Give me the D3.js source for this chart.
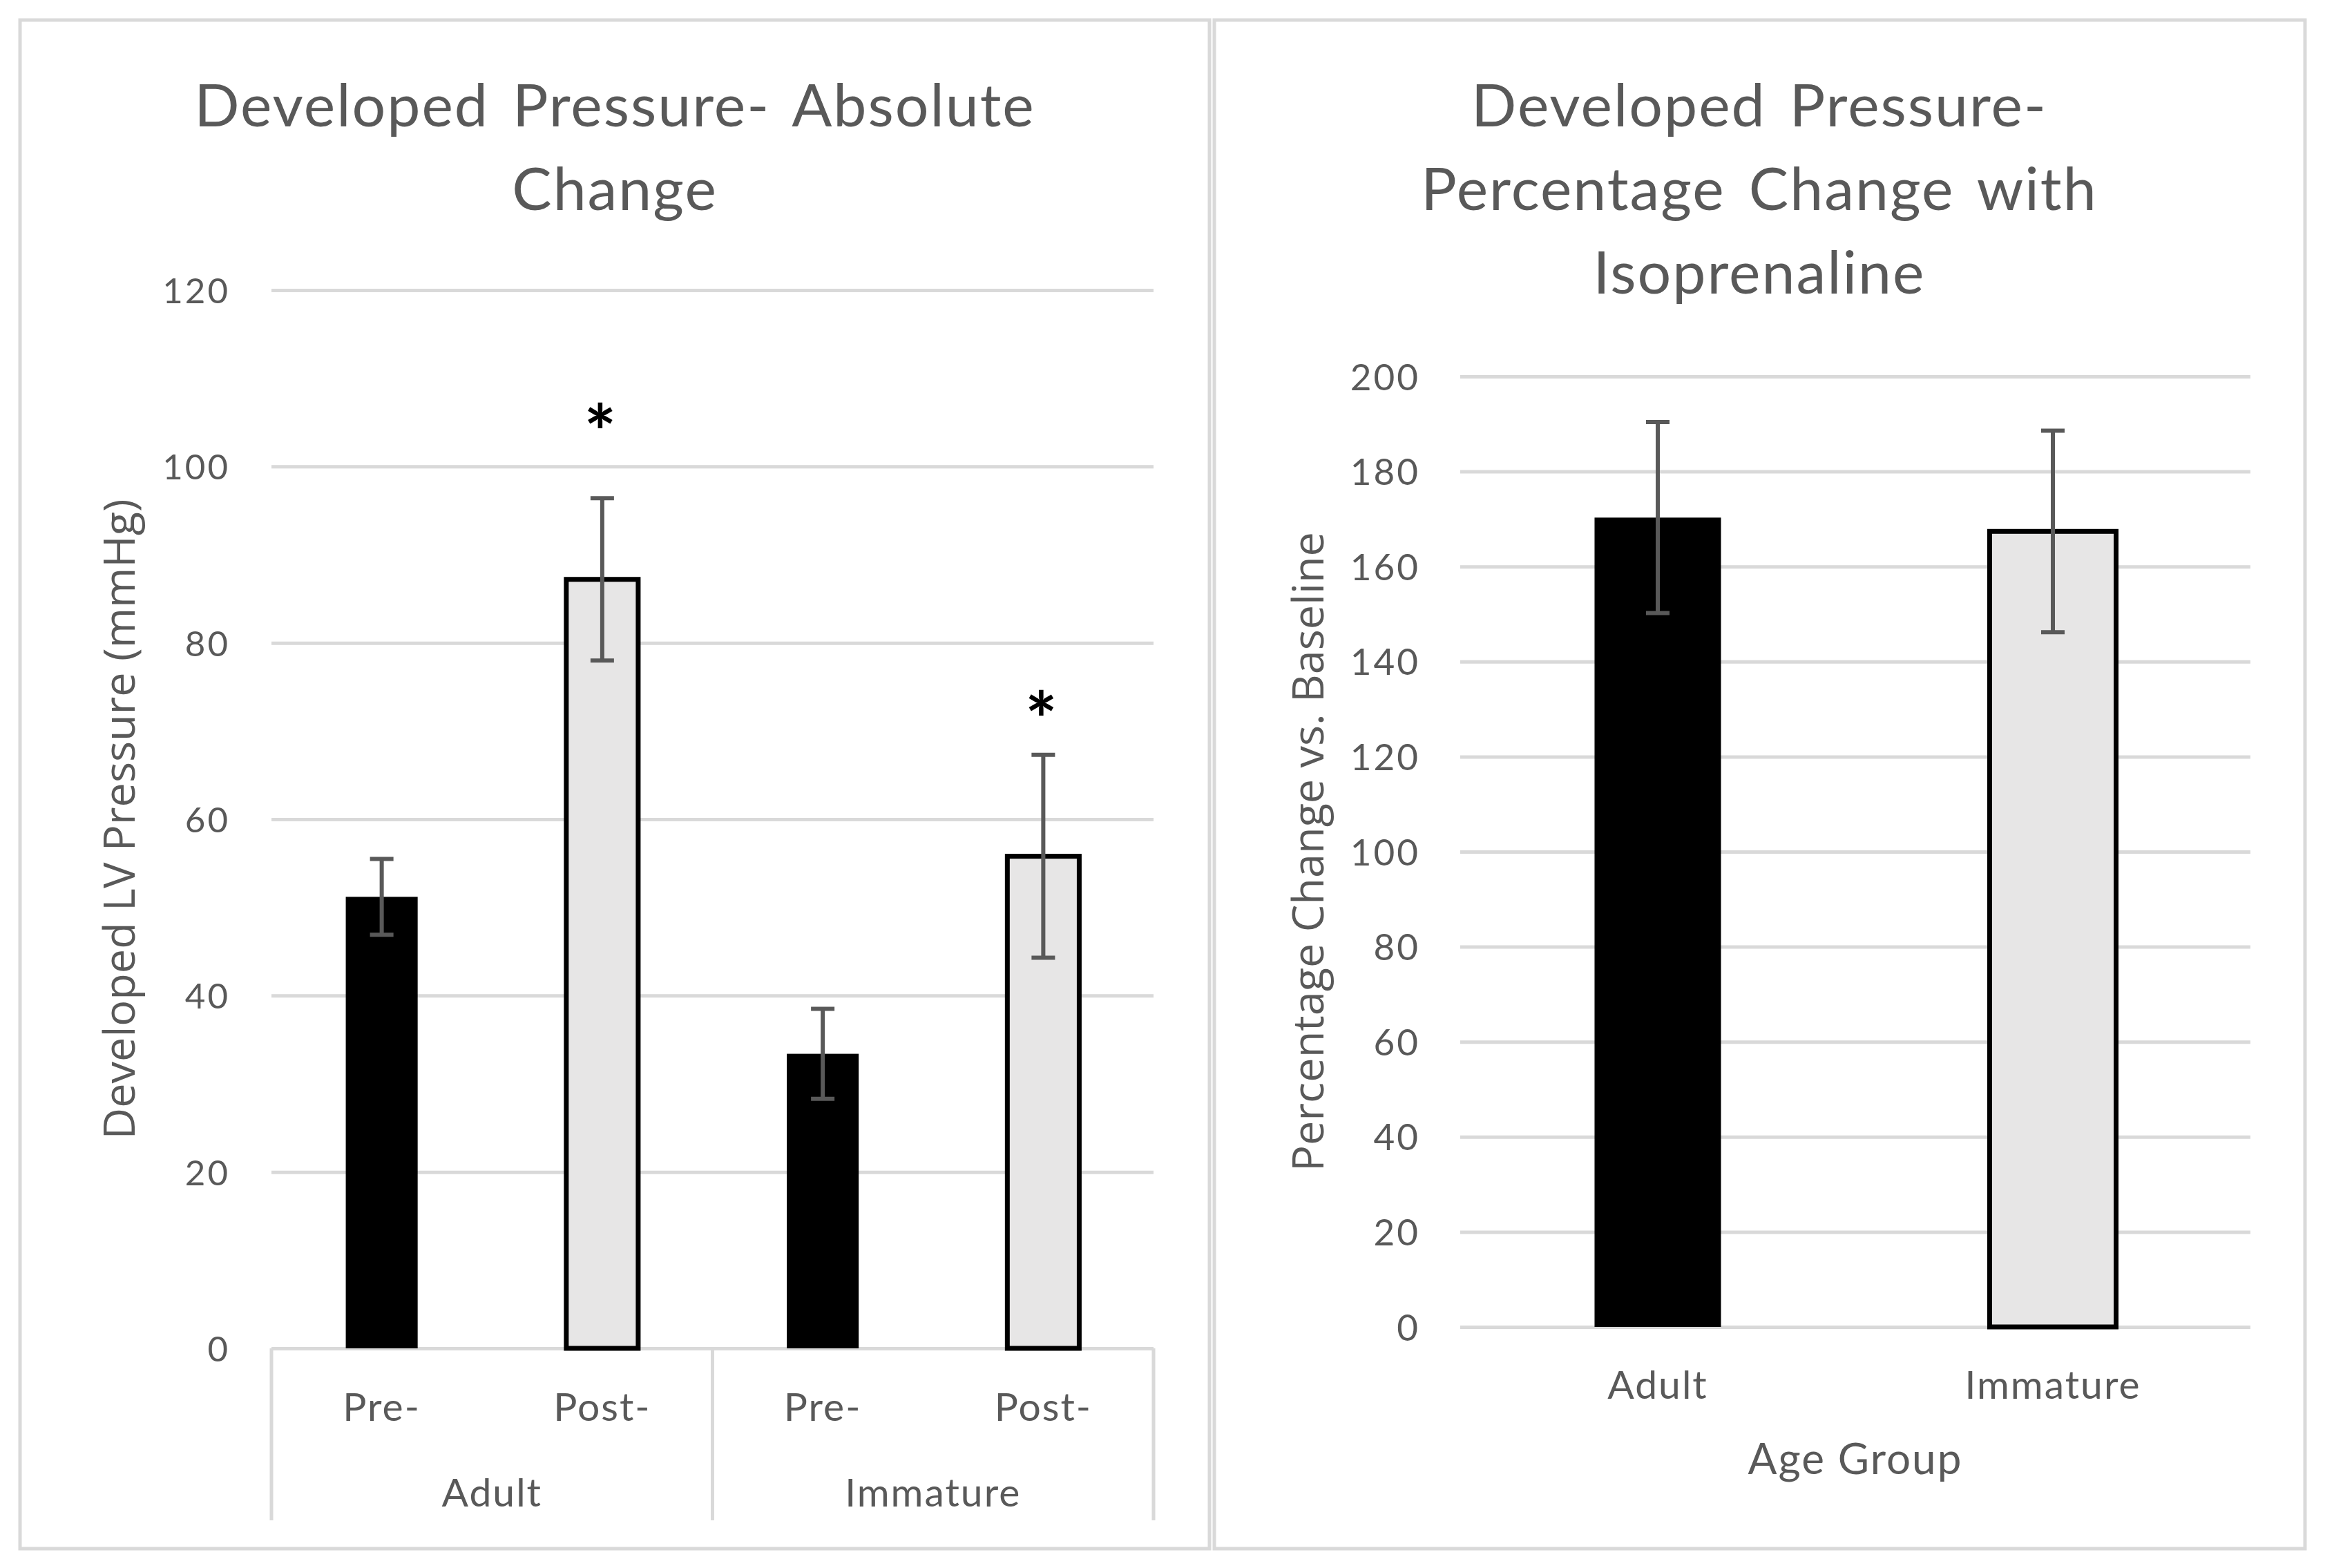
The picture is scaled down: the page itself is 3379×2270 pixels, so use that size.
<!DOCTYPE html>
<html>
<head>
<meta charset="utf-8">
<script src="https://cdn.jsdelivr.net/npm/d3@7"></script>
<style>
  body { margin: 0; background: #fff; }
  svg { display: block; }
  .tick-label { font-family: Lato, sans-serif; fill: #595959; }
  .title { font-family: Lato, sans-serif; fill: #595959; }
  .ytitle { font-family: "Open Sans", sans-serif; fill: #595959; }
</style>
</head>
<body>
<div id="chart"></div>
<script>
// data
var leftGroups = ["Adult", "Immature"];
var leftConditions = ["Pre-", "Post-"];
var leftMeans = [51.2, 87.2, 33.4, 55.8];
var leftErrors = [4.3, 9.2, 5.1, 11.5];
var leftStars = [null, 105.6, null, 73.0];   // where the * marks sit, in mmHg
var leftTicks = [0, 20, 40, 60, 80, 100, 120];

var rightGroups = ["Adult", "Immature"];
var rightMeans = [170.3, 167.4];
var rightErrors = [20.1, 21.2];
var rightTicks = [0, 20, 40, 60, 80, 100, 120, 140, 160, 180, 200];

var fills = ["#000000", "#e7e6e6"];

var svgWidth = 3379;
var svgHeight = 2270;

var svg = d3.select("#chart")
  .append("svg")
  .attr("width", svgWidth)
  .attr("height", svgHeight);

// panel frames
svg.append("rect")
  .attr("x", 29).attr("y", 29).attr("width", 1722).attr("height", 2213)
  .attr("fill", "#fff").attr("stroke", "#d9d9d9").attr("stroke-width", 5);
svg.append("rect")
  .attr("x", 1758).attr("y", 29).attr("width", 1579).attr("height", 2213)
  .attr("fill", "#fff").attr("stroke", "#d9d9d9").attr("stroke-width", 5);

// ---------- left chart ----------
var leftKeys = [];
leftGroups.forEach(function(g) {
  leftConditions.forEach(function(c) { leftKeys.push(g + "|" + c); });
});

var xL = d3.scaleBand()
  .domain(leftKeys)
  .range([393, 1670])
  .paddingInner(0.674)
  .paddingOuter(0.337);

var yL = d3.scaleLinear()
  .domain([0, 120])
  .range([1952, 420]);

var leftG = svg.append("g");

// gridlines + tick labels
var leftAxis = d3.axisLeft(yL)
  .tickValues(leftTicks)
  .tickSize(-(1670 - 393))
  .tickPadding(60);

var gAxisL = leftG.append("g")
  .attr("transform", "translate(393,0)")
  .call(leftAxis);
gAxisL.select(".domain").remove();
gAxisL.selectAll(".tick line").attr("stroke", "#d9d9d9").attr("stroke-width", 5);
gAxisL.selectAll(".tick text")
  .attr("class", "tick-label")
  .attr("font-size", 51)
  .attr("letter-spacing", 3)
  .attr("dy", "0.36em");

// category axis: dividers
var stepL = xL.step();
var dividers = [0, 1, 2].map(function(i) { return 393 + i * 2 * stepL; });
leftG.selectAll(".divider")
  .data(dividers)
  .enter()
  .append("line")
  .attr("x1", d => d).attr("x2", d => d)
  .attr("y1", yL(0)).attr("y2", 2201)
  .attr("stroke", "#d9d9d9").attr("stroke-width", 5);

var leftData = leftKeys.map(function(k, i) {
  return { key: k, group: k.split("|")[0], cond: k.split("|")[1], mean: leftMeans[i], err: leftErrors[i], star: leftStars[i], ci: i % 2 };
});

// bars
leftG.selectAll(".bar")
  .data(leftData)
  .enter()
  .append("rect")
  .attr("x", d => xL(d.key))
  .attr("width", xL.bandwidth())
  .attr("y", d => yL(d.mean))
  .attr("height", d => yL(0) - yL(d.mean))
  .attr("fill", d => fills[d.ci])
  .attr("stroke", d => d.ci === 1 ? "#000" : "none")
  .attr("stroke-width", 7);

// error bars
function drawErrors(g, data, x, y, cap) {
  var eb = g.selectAll(".err")
    .data(data)
    .enter()
    .append("g")
    .attr("stroke", "#595959")
    .attr("stroke-width", 6);
  eb.append("line")
    .attr("x1", d => x(d.key) + x.bandwidth() / 2)
    .attr("x2", d => x(d.key) + x.bandwidth() / 2)
    .attr("y1", d => y(d.mean + d.err))
    .attr("y2", d => y(d.mean - d.err));
  eb.append("line")
    .attr("x1", d => x(d.key) + x.bandwidth() / 2 - cap)
    .attr("x2", d => x(d.key) + x.bandwidth() / 2 + cap)
    .attr("y1", d => y(d.mean + d.err))
    .attr("y2", d => y(d.mean + d.err));
  eb.append("line")
    .attr("x1", d => x(d.key) + x.bandwidth() / 2 - cap)
    .attr("x2", d => x(d.key) + x.bandwidth() / 2 + cap)
    .attr("y1", d => y(d.mean - d.err))
    .attr("y2", d => y(d.mean - d.err));
}
drawErrors(leftG, leftData, xL, yL, 17);

// significance marks
leftG.selectAll(".star")
  .data(leftData.filter(d => d.star !== null))
  .enter()
  .append("text")
  .attr("x", d => xL(d.key) + xL.bandwidth() / 2 - 3)
  .attr("y", d => yL(d.star) + 62)
  .attr("text-anchor", "middle")
  .attr("font-family", "Lato, sans-serif")
  .attr("font-weight", "bold")
  .attr("font-size", 110)
  .attr("fill", "#000")
  .text("*");

// condition labels
leftG.selectAll(".cond")
  .data(leftData)
  .enter()
  .append("text")
  .attr("class", "tick-label")
  .attr("x", d => xL(d.key) + xL.bandwidth() / 2)
  .attr("y", 2057)
  .attr("text-anchor", "middle")
  .attr("font-size", 57)
  .attr("letter-spacing", 2)
  .text(d => d.cond);

// group labels
leftG.selectAll(".grp")
  .data(leftGroups)
  .enter()
  .append("text")
  .attr("class", "tick-label")
  .attr("x", (d, i) => (dividers[i] + dividers[i + 1]) / 2)
  .attr("y", 2181)
  .attr("text-anchor", "middle")
  .attr("font-size", 57)
  .attr("letter-spacing", 2)
  .text(d => d);

// titles
var leftTitle = leftG.append("text")
  .attr("class", "title")
  .attr("text-anchor", "middle")
  .attr("font-size", 86)
  .attr("letter-spacing", 2)
  .attr("word-spacing", 10);
["Developed Pressure- Absolute", "Change"].forEach(function(t, i) {
  leftTitle.append("tspan").attr("x", 890).attr("y", 183 + i * 121).text(t);
});

leftG.append("text")
  .attr("class", "ytitle")
  .attr("transform", "translate(195," + ((yL(0) + yL(120)) / 2) + ") rotate(-90)")
  .attr("text-anchor", "middle")
  .attr("font-size", 63)
  .text("Developed LV Pressure (mmHg)");

// ---------- right chart ----------
var xR = d3.scaleBand()
  .domain(rightGroups)
  .range([2114, 3258])
  .paddingInner(0.68)
  .paddingOuter(0.34);

var yR = d3.scaleLinear()
  .domain([0, 200])
  .range([1921, 545]);

var rightG = svg.append("g");

var rightAxis = d3.axisLeft(yR)
  .tickValues(rightTicks)
  .tickSize(-(3258 - 2114))
  .tickPadding(58);

var gAxisR = rightG.append("g")
  .attr("transform", "translate(2114,0)")
  .call(rightAxis);
gAxisR.select(".domain").remove();
gAxisR.selectAll(".tick line").attr("stroke", "#d9d9d9").attr("stroke-width", 5);
gAxisR.selectAll(".tick text")
  .attr("class", "tick-label")
  .attr("font-size", 53)
  .attr("letter-spacing", 3)
  .attr("dy", "0.36em");

var rightData = rightGroups.map(function(g, i) {
  return { key: g, mean: rightMeans[i], err: rightErrors[i], ci: i };
});

rightG.selectAll(".bar")
  .data(rightData)
  .enter()
  .append("rect")
  .attr("x", d => xR(d.key))
  .attr("width", xR.bandwidth())
  .attr("y", d => yR(d.mean))
  .attr("height", d => yR(0) - yR(d.mean))
  .attr("fill", d => fills[d.ci])
  .attr("stroke", d => d.ci === 1 ? "#000" : "none")
  .attr("stroke-width", 7);

drawErrors(rightG, rightData, xR, yR, 17);

rightG.selectAll(".cat")
  .data(rightGroups)
  .enter()
  .append("text")
  .attr("class", "tick-label")
  .attr("x", d => xR(d) + xR.bandwidth() / 2)
  .attr("y", 2025)
  .attr("text-anchor", "middle")
  .attr("font-size", 57)
  .attr("letter-spacing", 2)
  .text(d => d);

rightG.append("text")
  .attr("class", "title")
  .attr("x", (2114 + 3258) / 2)
  .attr("y", 2134)
  .attr("text-anchor", "middle")
  .attr("font-size", 62)
  .attr("letter-spacing", 2)
  .text("Age Group");

var rightTitle = rightG.append("text")
  .attr("class", "title")
  .attr("text-anchor", "middle")
  .attr("font-size", 86)
  .attr("letter-spacing", 2)
  .attr("word-spacing", 10);
["Developed Pressure-", "Percentage Change with", "Isoprenaline"].forEach(function(t, i) {
  rightTitle.append("tspan").attr("x", 2547).attr("y", 183 + i * 121).text(t);
});

rightG.append("text")
  .attr("class", "ytitle")
  .attr("transform", "translate(1916," + ((yR(0) + yR(200)) / 2) + ") rotate(-90)")
  .attr("text-anchor", "middle")
  .attr("font-size", 63)
  .text("Percentage Change vs. Baseline");
</script>
</body>
</html>
